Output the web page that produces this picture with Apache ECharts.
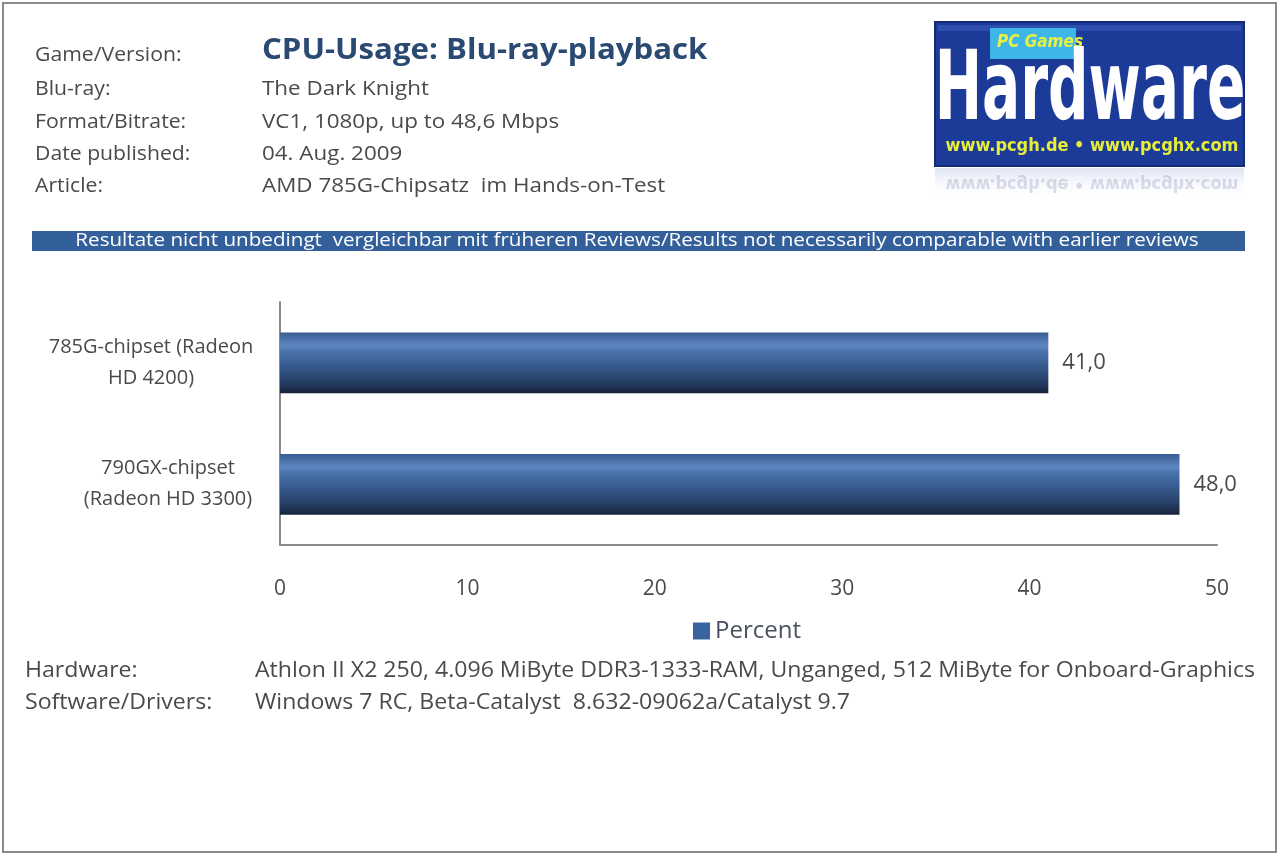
<!DOCTYPE html>
<html>
<head>
<meta charset="utf-8">
<script src="https://cdn.jsdelivr.net/npm/echarts@6/dist/echarts.min.js"></script>
<style>html,body{margin:0;padding:0;background:#fff}#c{width:1280px;height:856px}</style>
</head>
<body>
<div id="c"></div>
<script>
const categories = ['785G-chipset (Radeon\nHD 4200)', '790GX-chipset\n(Radeon HD 3300)'];
const values = [41.0, 48.0];
const seriesName = 'Percent';
const xTicks = { min: 0, max: 50, interval: 10 };
const title = 'CPU-Usage: Blu-ray-playback';
const infoLabels = ['Game/Version:', 'Blu-ray:', 'Format/Bitrate:', 'Date published:', 'Article:'];
const infoValues = ['', 'The Dark Knight', 'VC1, 1080p, up to 48,6 Mbps', '04. Aug. 2009', 'AMD 785G-Chipsatz  im Hands-on-Test'];
const banner = 'Resultate nicht unbedingt  vergleichbar mit früheren Reviews/Results not necessarily comparable with earlier reviews';
const footLabels = ['Hardware:', 'Software/Drivers:'];
const footValues = ['Athlon II X2 250, 4.096 MiByte DDR3-1333-RAM, Unganged, 512 MiByte for Onboard-Graphics', 'Windows 7 RC, Beta-Catalyst  8.632-09062a/Catalyst 9.7'];

const FONT = 'Open Sans';
const TXT = '#4a4a4a';
const LOGOFONT = '"DejaVu Sans Condensed", sans-serif';

const chart = echarts.init(document.getElementById('c'), null, { renderer: 'canvas' });

const graphics = [
  { type: 'rect', shape: { x: 3, y: 3, width: 1273, height: 849 }, style: { fill: 'none', stroke: '#8a8a8a', lineWidth: 2 }, z: 100 },
  { type: 'text', x: 262, y: 51, scaleX: 1.075, style: { text: title, font: 'bold 29px ' + FONT, fill: '#2b4a73', verticalAlign: 'middle' } },
  { type: 'rect', shape: { x: 32, y: 231, width: 1213, height: 20 }, style: { fill: '#33609a' } },
  { type: 'text', x: 637, y: 241, scaleX: 1.085, style: { text: banner, font: '19px ' + FONT, fill: '#ffffff', align: 'center', verticalAlign: 'middle' } },
  // logo
  { type: 'rect', shape: { x: 935, y: 22, width: 309, height: 144 }, style: { fill: '#1c3a98', stroke: '#142c78', lineWidth: 2 } },
  { type: 'rect', shape: { x: 938, y: 25, width: 303, height: 6 }, style: { fill: '#3a5bc0', opacity: 0.6 } },
  { type: 'rect', shape: { x: 990, y: 28, width: 86, height: 31 }, style: { fill: '#3fb6e8' } },
  { type: 'text', x: 1040, y: 43, style: { text: 'PC Games', font: 'italic bold 17px ' + LOGOFONT, fill: '#e8f040', align: 'center', verticalAlign: 'middle' } },
  { type: 'text', x: 1090, y: 94, scaleX: 0.655, style: { text: 'Hardware', font: 'bold 96px ' + LOGOFONT, fill: '#ffffff', align: 'center', verticalAlign: 'middle' } },
  { type: 'text', x: 1092, y: 146, style: { text: 'www.pcgh.de • www.pcghx.com', font: 'bold 18px ' + LOGOFONT, fill: '#e6ee3a', align: 'center', verticalAlign: 'middle' } },
  { type: 'text', x: 1092, y: 184, scaleY: -1, style: { text: 'www.pcgh.de • www.pcghx.com', font: 'bold 18px ' + LOGOFONT, fill: '#8090b8', opacity: 0.3, align: 'center', verticalAlign: 'middle' } },
  { type: 'rect', shape: { x: 935, y: 168, width: 309, height: 32 }, style: { fill: { type: 'linear', x: 0, y: 0, x2: 0, y2: 1, colorStops: [{ offset: 0, color: 'rgba(60,90,180,0.16)' }, { offset: 1, color: 'rgba(255,255,255,0)' }] } } }
];

const infoY = [55, 89, 122, 154, 186];
infoLabels.forEach((t, i) => {
  graphics.push({ type: 'text', x: 35, y: infoY[i], scaleX: 1.06, style: { text: t, font: '20px ' + FONT, fill: TXT, verticalAlign: 'middle' } });
  if (infoValues[i]) graphics.push({ type: 'text', x: 262, y: infoY[i], scaleX: 1.12, style: { text: infoValues[i], font: '20px ' + FONT, fill: TXT, verticalAlign: 'middle' } });
});
const footY = [671, 703];
footLabels.forEach((t, i) => {
  graphics.push({ type: 'text', x: 25, y: footY[i], scaleX: 1.1, style: { text: t, font: '21px ' + FONT, fill: TXT, verticalAlign: 'middle' } });
  graphics.push({ type: 'text', x: 255, y: footY[i], scaleX: 1.1, style: { text: footValues[i], font: '21px ' + FONT, fill: TXT, verticalAlign: 'middle' } });
});

const barGradient = {
  type: 'linear', x: 0, y: 0, x2: 0, y2: 1,
  colorStops: [
    { offset: 0, color: '#395d92' },
    { offset: 0.22, color: '#5d86c2' },
    { offset: 0.34, color: '#4770a8' },
    { offset: 0.55, color: '#375b8f' },
    { offset: 0.85, color: '#243b5f' },
    { offset: 1, color: '#18243a' }
  ]
};

// labels: block right-aligned near the axis, lines centred inside the block
const catLabelPad = [[0, 4, 0, 0], [0, 0, 0, 30]];
const catLabelStyle = { fontSize: 20, color: TXT, align: 'center', lineHeight: 31, fontFamily: FONT };

chart.setOption({
  animation: false,
  backgroundColor: '#ffffff',
  textStyle: { fontFamily: FONT },
  grid: { left: 280, right: 63, top: 302, bottom: 311, containLabel: false, outerBoundsMode: 'none' },
  legend: {
    data: [{ name: seriesName, itemStyle: { color: '#3a64a0' } }],
    left: 688, top: 614, itemWidth: 17, itemHeight: 17, itemGap: 5,
    textStyle: { fontSize: 24, color: '#4a5060', fontFamily: FONT },
    icon: 'rect'
  },
  xAxis: {
    type: 'value', min: xTicks.min, max: xTicks.max, interval: xTicks.interval,
    axisLine: { show: true, lineStyle: { color: '#8a8a8a', width: 2 } },
    axisTick: { show: false },
    splitLine: { show: false },
    axisLabel: { fontSize: 21, color: TXT, margin: 34, fontFamily: FONT }
  },
  yAxis: {
    type: 'category',
    data: categories.map((c, i) => ({ value: c, textStyle: Object.assign({}, catLabelStyle, { padding: catLabelPad[i] }) })),
    inverse: true,
    axisLine: { show: true, lineStyle: { color: '#8a8a8a', width: 2 } },
    axisTick: { show: false },
    axisLabel: Object.assign({ margin: 127 }, catLabelStyle)
  },
  series: [{
    name: seriesName, type: 'bar', data: values,
    barCategoryGap: '50%',
    itemStyle: { color: barGradient },
    label: {
      show: true, position: 'right', distance: 14, fontSize: 22, color: TXT, fontFamily: FONT,
      formatter: p => p.value.toFixed(1).replace('.', ',')
    }
  }],
  graphic: graphics
});
</script>
</body>
</html>
